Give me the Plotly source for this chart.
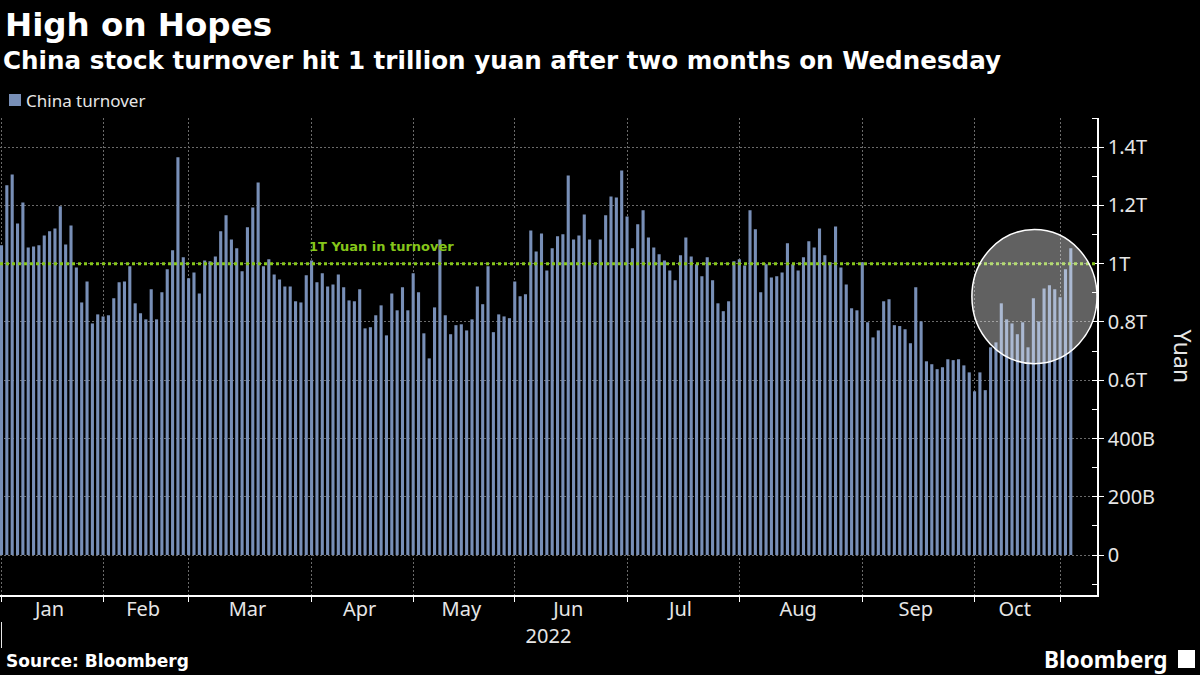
import plotly.graph_objects as go

# ---------------- data ----------------
months = ["Jan", "Feb", "Mar", "Apr", "May", "Jun", "Jul", "Aug", "Sep", "Oct", "Nov"]
trading_days = [19, 16, 23, 19, 19, 21, 21, 23, 21, 16, 3]

# daily China stock turnover, trillion yuan
jan = [1.063, 1.269, 1.306, 1.138, 1.210, 1.056, 1.059, 1.063, 1.097, 1.111, 1.121, 1.197, 1.066,
       1.131, 0.987, 0.867, 0.939, 0.795, 0.826]
feb = [0.819, 0.823, 0.881, 0.936, 0.939, 0.991, 0.864, 0.830, 0.809, 0.912, 0.809, 0.902, 0.981,
       1.046, 1.365, 1.022]
mar = [0.950, 0.970, 0.898, 1.011, 1.008, 1.025, 1.111, 1.166, 1.083, 1.053, 0.974, 1.125, 1.193,
       1.279, 0.991, 1.015, 0.963, 0.946, 0.922, 0.922, 0.871, 0.867, 0.960]
apr = [1.011, 0.936, 0.967, 0.922, 0.929, 0.963, 0.919, 0.874, 0.871, 0.912, 0.778, 0.782, 0.823,
       0.857, 0.754, 0.898, 0.840, 0.919, 0.840]
may = [0.967, 0.902, 0.761, 0.675, 0.850, 1.083, 0.823, 0.758, 0.789, 0.792, 0.771, 0.809, 0.922,
       0.861, 0.991, 0.765, 0.826, 0.819, 0.813]
jun = [0.939, 0.888, 0.895, 1.114, 1.042, 1.104, 0.977, 1.053, 1.094, 1.101, 1.303, 1.083, 1.097,
       1.169, 1.083, 0.998, 1.083, 1.166, 1.231, 1.227, 1.320]
jul = [1.162, 1.053, 1.135, 1.183, 1.090, 1.056, 1.032, 1.011, 0.977, 0.943, 1.029, 1.090, 1.025,
       0.998, 0.957, 1.022, 0.943, 0.864, 0.837, 0.871, 1.008]
aug = [1.015, 0.994, 1.183, 1.118, 0.902, 0.998, 0.953, 0.957, 0.970, 1.070, 0.998, 0.977, 1.022,
       1.077, 1.056, 1.121, 1.029, 1.005, 1.128, 0.987, 0.929, 0.847, 0.840]
sep = [1.005, 0.799, 0.747, 0.771, 0.871, 0.878, 0.789, 0.786, 0.775, 0.727, 0.919, 0.802, 0.665,
       0.655, 0.638, 0.645, 0.672, 0.669, 0.672, 0.651, 0.627]
oct_ = [0.562, 0.627, 0.566, 0.713, 0.730, 0.864, 0.809, 0.795, 0.758, 0.799, 0.713, 0.881, 0.802,
        0.915, 0.926, 0.912]
nov = [0.885, 0.981, 1.053]

y_tickvals = [0, 0.2, 0.4, 0.6, 0.8, 1.0, 1.2, 1.4]
y_ticktext = ["0", "200B", "400B", "0.6T", "0.8T", "1T", "1.2T", "1.4T"]
ref_level = 1.0

# ---------------- derived ----------------
values = jan + feb + mar + apr + may + jun + jul + aug + sep + oct_ + nov
x_idx = list(range(len(values)))

month_starts = []
s = 0
for d in trading_days:
    month_starts.append(s)
    s += d
label_pos = [st + (d - 1) / 2 for st, d in zip(month_starts, trading_days) if d >= 10]
label_txt = [m for m, d in zip(months, trading_days) if d >= 10]

# ---------------- layout geometry ----------------
W, H = 1200, 675
L, R, T, B = 0, 103, 118, 80
PW, PH = W - L - R, H - T - B
def px(x):
    return (x - L) / PW
def py(y):
    return (H - B - y) / PH

X_MIN, X_MAX = -0.28, 204.9
Y_MIN, Y_MAX = -0.137, 1.5

BAR = "rgb(120,143,183)"
GRID = "#6a6a6a"
TXT = "#e6e6e6"
GREEN = "#86c61a"
AX_FONT = dict(family="Noto Sans", size=20, color=TXT)
BOLD = "DejaVu Sans"

fig = go.Figure()
fig.add_bar(x=x_idx, y=values, marker_color=BAR, marker_line_width=0,
            name="China turnover", showlegend=False, hoverinfo="y")
# triangle tick markers on the right axis
fig.add_scatter(x=[X_MAX + 0.45] * len(y_tickvals), y=y_tickvals, mode="markers",
                marker=dict(symbol="triangle-right", size=7, color="white"),
                cliponaxis=False, showlegend=False, hoverinfo="skip")

fig.update_layout(
    width=W, height=H,
    margin=dict(l=L, r=R, t=T, b=B),
    paper_bgcolor="black", plot_bgcolor="black",
    bargap=0.42,
    showlegend=False,
    xaxis=dict(
        range=[X_MIN, X_MAX], tickmode="array", tickvals=label_pos, ticktext=label_txt,
        ticks="", showgrid=False, zeroline=False,
        showline=True, linecolor="white", linewidth=1.5,
        tickfont=AX_FONT, ticklabelstandoff=-5,
        title=dict(text="2022", font=AX_FONT, standoff=2),
        minor=dict(tickmode="array", tickvals=month_starts, ticks="outside", ticklen=5,
                   tickcolor="white", tickwidth=1, showgrid=True, gridcolor=GRID,
                   griddash="2px,2px", gridwidth=1),
    ),
    yaxis=dict(
        side="right", range=[Y_MIN, Y_MAX], tickmode="array", tickvals=y_tickvals,
        ticktext=y_ticktext, ticks="outside", ticklen=5, tickcolor="white", tickwidth=1,
        showgrid=True, gridcolor=GRID, griddash="2px,2px", gridwidth=1, zeroline=False,
        showline=True, linecolor="white", linewidth=1.5, tickfont=AX_FONT,
        minor=dict(tickmode="linear", tick0=0, dtick=0.1, ticks="inside", ticklen=5,
                   tickcolor="white", tickwidth=1, showgrid=False),
    ),
)

# 1T reference line
fig.add_shape(type="line", xref="paper", x0=0, x1=1, yref="y", y0=ref_level, y1=ref_level,
              line=dict(color=GREEN, width=3, dash="dot"), layer="above")
fig.add_annotation(x=month_starts[3] - 0.9, y=ref_level, xref="x", yref="y",
                   text="<b>1T Yuan in turnover</b>", showarrow=False,
                   xanchor="left", yanchor="middle", yshift=17,
                   font=dict(family=BOLD, size=13, color=GREEN))

# highlight circle on the latest days
fig.add_shape(type="circle", xref="x", yref="y", x0=181.5, x1=204.9, y0=0.657, y1=1.117,
              fillcolor="rgba(255,255,255,0.38)", line=dict(color="white", width=1.5),
              layer="above")

# year separator tick
fig.add_shape(type="line", xref="x", yref="paper", x0=month_starts[0], x1=month_starts[0],
              y0=py(622), y1=py(648), line=dict(color=TXT, width=1))

# titles
fig.add_annotation(xref="paper", yref="paper", x=px(3), y=py(25), xanchor="left", yanchor="middle",
                   text="<b>High on Hopes</b>", showarrow=False,
                   font=dict(family=BOLD, size=32.5, color="white"))
fig.add_annotation(xref="paper", yref="paper", x=px(1), y=py(60), xanchor="left", yanchor="middle",
                   text="<b>China stock turnover hit 1 trillion yuan after two months on Wednesday</b>",
                   showarrow=False, font=dict(family=BOLD, size=24.6, color="white"))

# legend
fig.add_shape(type="rect", xref="paper", yref="paper", x0=px(9), x1=px(21), y0=py(106), y1=py(94),
              fillcolor=BAR, line=dict(width=0))
fig.add_annotation(xref="paper", yref="paper", x=px(24), y=py(100), xanchor="left", yanchor="middle",
                   text="China turnover", showarrow=False,
                   font=dict(family="Noto Sans", size=17, color=TXT))

# y-axis title
fig.add_annotation(xref="paper", yref="paper", x=px(1183), y=0.5, xanchor="center", yanchor="middle",
                   text="Yuan", textangle=90, showarrow=False,
                   font=dict(family="Noto Sans", size=23, color=TXT))

# footer
fig.add_annotation(xref="paper", yref="paper", x=px(4), y=py(661), xanchor="left", yanchor="middle",
                   text="<b>Source: Bloomberg</b>", showarrow=False,
                   font=dict(family=BOLD, size=17, color="white"))
fig.add_annotation(xref="paper", yref="paper", x=px(1169), y=py(659), xanchor="right", yanchor="middle",
                   text="<b>Bloomberg</b>", showarrow=False,
                   font=dict(family="Noto Sans", size=22.5, color="white"))
fig.add_shape(type="rect", xref="paper", yref="paper", x0=px(1178), x1=px(1195), y0=py(668), y1=py(650),
              fillcolor="white", line=dict(width=0))

fig.write_html("out.html", config={"displayModeBar": False},
               post_script="document.body.style.margin='0px';document.body.style.overflow='hidden';")
